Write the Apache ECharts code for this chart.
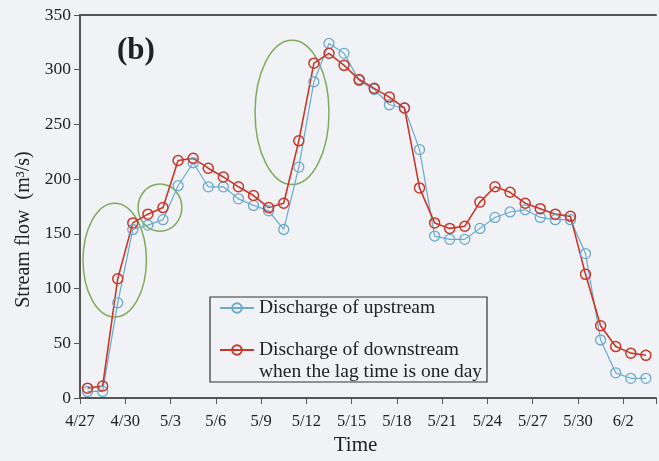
<!DOCTYPE html>
<html>
<head>
<meta charset="utf-8">
<script src="https://cdn.jsdelivr.net/npm/echarts@6/dist/echarts.min.js"></script>
<style>
  html, body { margin: 0; padding: 0; background: #f0f2f5; }
  #main { width: 659px; height: 461px; }
</style>
</head>
<body>
<div id="main"></div>
<script>
// one point per day, drawn in the middle of the day
var days = ['4/27', '4/28', '4/29', '4/30',
  '5/1', '5/2', '5/3', '5/4', '5/5', '5/6', '5/7', '5/8', '5/9', '5/10',
  '5/11', '5/12', '5/13', '5/14', '5/15', '5/16', '5/17', '5/18', '5/19', '5/20',
  '5/21', '5/22', '5/23', '5/24', '5/25', '5/26', '5/27', '5/28', '5/29', '5/30', '5/31',
  '6/1', '6/2', '6/3']
var upstream = [6, 6, 87, 154, 158, 163, 194, 215, 193, 193,
  182, 176, 171, 154, 211, 289, 324, 315, 290, 282,
  268, 265, 227, 148, 145, 145, 155, 165, 170, 172,
  165, 163, 163, 132, 53, 23, 18, 18]
var downstream = [9, 11, 109, 160, 168, 174, 217, 219, 210, 202,
  193, 185, 174, 178, 235, 306, 315, 304, 291, 283,
  275, 265, 192, 160, 155, 157, 179, 193, 188, 178,
  173, 168, 166, 113, 66, 47, 41, 39]
var seriesNames = ['Discharge of upstream', 'Discharge of downstream']
var secondLine = 'when the lag time is one day'
// green circled zones: [day, flow, half width (days), half height (flow)]
var zones = [
  [2.3, 126, 2.1, 52],
  [5.3, 174, 1.45, 21.6],
  [14.05, 261, 2.45, 66]
]

var serif = '"Liberation Serif", "DejaVu Serif", serif'
var chart = echarts.init(document.getElementById('main'))

var pts = function (arr) {
  return arr.map(function (v, i) { return [i + 0.5, v] })
}

chart.setOption({
  backgroundColor: '#f0f2f5',
  animation: false,
  grid: { left: 80, right: 0, top: 15, bottom: 57 },
  legend: {
    orient: 'vertical',
    left: 210,
    top: 298,
    padding: [0, 0, 0, 9],
    itemGap: 22,
    itemWidth: 34,
    itemHeight: 12,
    textStyle: { fontFamily: serif, fontSize: 19.5, color: '#222' },
    data: seriesNames
  },
  xAxis: [{
    type: 'value',
    min: 0,
    max: 38.17,
    interval: 3,
    name: 'Time',
    nameLocation: 'middle',
    nameGap: 37,
    nameTextStyle: { fontFamily: serif, fontSize: 21, color: '#222', padding: [0, 25, 0, 0] },
    axisLine: { lineStyle: { color: '#555', width: 2 } },
    axisTick: { inside: false, length: 6, lineStyle: { color: '#555' } },
    axisLabel: {
      margin: 15,
      fontFamily: serif, fontSize: 16.5, color: '#222',
      formatter: function (v) { return Number.isInteger(v) ? (days[v] || '') : '' }
    },
    splitLine: { show: false }
  }, {
    type: 'value',
    position: 'top',
    min: 0,
    max: 38.17,
    axisLine: { show: true, lineStyle: { color: '#555', width: 2 } },
    axisTick: { show: false },
    axisLabel: { show: false },
    splitLine: { show: false }
  }],
  yAxis: {
    type: 'value',
    min: 0,
    max: 350,
    interval: 50,
    name: 'Stream flow  (m³/s)',
    nameLocation: 'middle',
    nameGap: 42,
    nameTextStyle: { fontFamily: serif, fontSize: 20, color: '#222', padding: [0, 46, 0, 0] },
    axisLine: { show: true, lineStyle: { color: '#555', width: 2 } },
    axisTick: { show: true, length: 6, lineStyle: { color: '#555' } },
    axisLabel: { margin: 9, fontFamily: serif, fontSize: 17.5, color: '#222' },
    splitLine: { show: false }
  },
  series: [{
    name: seriesNames[0],
    type: 'line',
    data: pts(upstream),
    symbol: 'circle',
    symbolSize: 10,
    lineStyle: { color: '#6aaacb', width: 1.2 },
    itemStyle: { color: 'rgba(0,0,0,0)', borderColor: '#6aaacb', borderWidth: 1.3 }
  }, {
    name: seriesNames[1],
    type: 'line',
    data: pts(downstream),
    symbol: 'circle',
    symbolSize: 10,
    lineStyle: { color: '#c8372a', width: 1.6 },
    itemStyle: { color: 'rgba(0,0,0,0)', borderColor: '#c8372a', borderWidth: 1.5 }
  }]
})

// annotations: zone ellipses, panel label, legend frame
var g = []
zones.forEach(function (z) {
  var c = chart.convertToPixel({ gridIndex: 0 }, [z[0], z[1]])
  var e = chart.convertToPixel({ gridIndex: 0 }, [z[0] + z[2], z[1] + z[3]])
  g.push({
    type: 'ellipse',
    shape: { cx: c[0], cy: c[1], rx: Math.abs(e[0] - c[0]), ry: Math.abs(c[1] - e[1]) },
    style: { fill: null, stroke: '#7cad5e', lineWidth: 1.5 },
    z: 1
  })
})
g.push({
  type: 'text', left: 117, top: 35,
  style: { text: '(b)', font: 'bold 31px ' + serif, fill: '#222' }
})
g.push({
  type: 'rect', shape: { x: 210, y: 297, width: 277, height: 85 },
  style: { fill: null, stroke: '#333', lineWidth: 1.2 }
})
g.push({
  type: 'text', left: 259, top: 362,
  style: { text: secondLine, font: '19.5px ' + serif, fill: '#222' }
})
chart.setOption({ graphic: g })
</script>
</body>
</html>
